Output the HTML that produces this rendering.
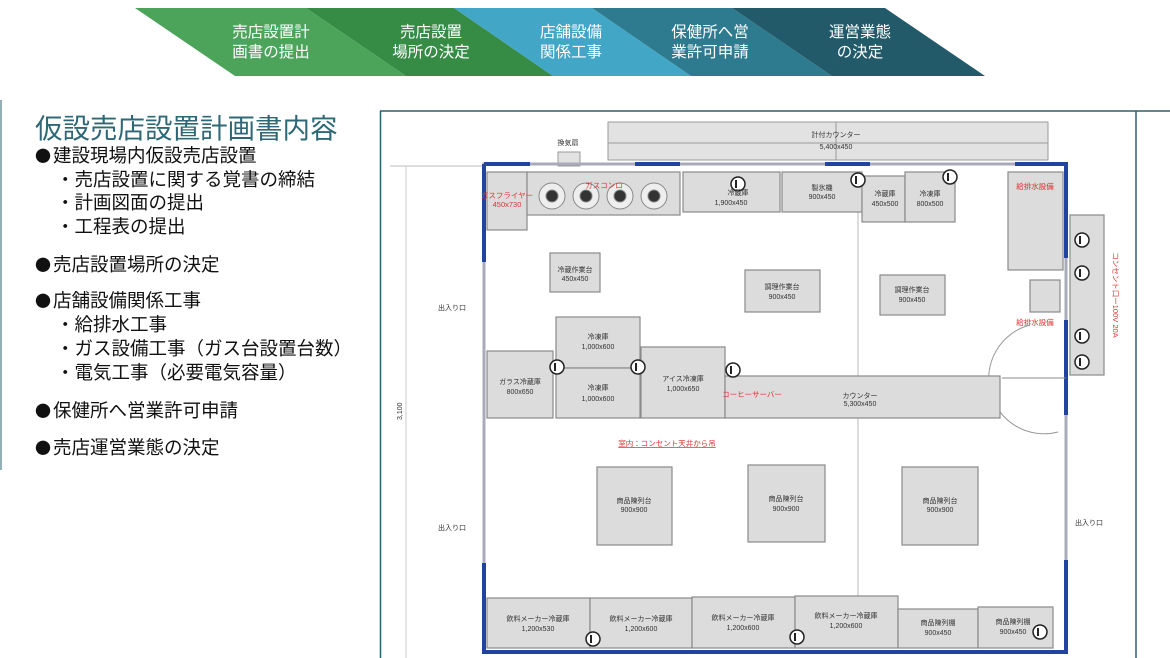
<!DOCTYPE html>
<html><head><meta charset="utf-8">
<style>
html,body{margin:0;padding:0;background:#fff;}
body{width:1170px;height:658px;position:relative;overflow:hidden;font-family:"Liberation Sans","Noto Sans CJK JP",sans-serif;}
svg{position:absolute;left:0;top:0;}
.t{position:absolute;left:35px;top:106px;font-size:27.5px;color:#2e6876;letter-spacing:0px;white-space:nowrap;}
.l{position:absolute;font-size:18.5px;color:#111;white-space:nowrap;line-height:1;}
.b{font-family:"Noto Sans CJK JP",sans-serif;font-size:16px;display:inline-block;width:18px;}
</style></head><body>
<svg width="1170" height="658" viewBox="0 0 1170 658" font-family="Liberation Sans, Noto Sans CJK JP, sans-serif">
<polygon points="135,8 306,8 406,76 235,76" fill="#4ca45b"/>
<polygon points="306,8 454,8 553,76 406,76" fill="#368b45"/>
<polygon points="454,8 592,8 691,76 553,76" fill="#42a7c7"/>
<polygon points="592,8 732,8 832,76 691,76" fill="#2e7b8f"/>
<polygon points="732,8 885,8 985,76 832,76" fill="#225a6a"/>
<g fill="#fff" font-size="15.5" text-anchor="middle">
<text x="271" y="37">売店設置計</text><text x="271" y="57">画書の提出</text>
<text x="431" y="37">売店設置</text><text x="431" y="57">場所の決定</text>
<text x="571" y="37">店舗設備</text><text x="571" y="57">関係工事</text>
<text x="710" y="37">保健所へ営</text><text x="710" y="57">業許可申請</text>
<text x="860" y="37">運営業態</text><text x="860" y="57">の決定</text>
</g>
<line x1="380" y1="111" x2="1170" y2="111" stroke="#2e5f6e" stroke-width="1.5"/>
<line x1="380.5" y1="111" x2="380.5" y2="658" stroke="#2e5f6e" stroke-width="1.5"/>
<line x1="1136" y1="111" x2="1136" y2="658" stroke="#2e5f6e" stroke-width="1.5"/>
<line x1="1" y1="100" x2="1" y2="470" stroke="#2e5f6e" stroke-width="1"/>
<g stroke="#999" fill="#e2e2e2" stroke-width="1">
<rect x="608" y="122" width="440" height="38"/>
<line x1="608" y1="143" x2="1048" y2="143"/><line x1="836" y1="122" x2="836" y2="160"/>
<rect x="558" y="152" width="22" height="14"/>
</g>
<g font-size="7" fill="#333" text-anchor="middle">
<text x="836" y="137">計付カウンター</text><text x="836" y="149">5,400x450</text>
<text x="568" y="145">換気扇</text>
</g>
<g fill="none">
<rect x="484" y="164" width="582" height="488" stroke="#aab" stroke-width="3"/>
<path d="M484,164 V262 M484,563 V652 H1066 V560 M1066,415 V320 M1066,258 V164 H1015 M870,164 H825 M680,164 H635 M530,164 H484" stroke="#2343a0" stroke-width="4"/>
<line x1="390" y1="166" x2="482" y2="166" stroke="#bbb"/>
<line x1="406" y1="166" x2="406" y2="658" stroke="#ccc"/>
<line x1="858" y1="212" x2="858" y2="598" stroke="#bbb"/>
<path d="M1030,325 A55,55 0 0 0 1058,432" stroke="#999" stroke-width="1"/>
<line x1="1002" y1="378" x2="1066" y2="378" stroke="#888"/>
</g>
<g font-size="7" fill="#333">
<text x="438" y="310">出入り口</text><text x="438" y="530">出入り口</text><text x="1075" y="525">出入り口</text>
<text x="402" y="420" transform="rotate(-90 402 420)">3,100</text>
</g>
<g stroke="#8a8a8a" fill="#dcdcdc" stroke-width="1.2">
<rect x="487" y="172" width="40" height="58"/>
<rect x="527" y="172" width="153" height="43"/>
<rect x="683" y="172" width="97" height="40"/>
<rect x="782" y="172" width="80" height="40"/>
<rect x="862" y="176" width="43" height="46"/>
<rect x="905" y="172" width="50" height="50"/>
<rect x="1008" y="172" width="55" height="98"/>
<rect x="1030" y="280" width="30" height="32"/>
<rect x="1070" y="215" width="34" height="160"/>
<rect x="550" y="253" width="50" height="39"/>
<rect x="745" y="270" width="75" height="42"/>
<rect x="880" y="275" width="65" height="40"/>
<rect x="556" y="317" width="84" height="51"/>
<rect x="556" y="368" width="84" height="50"/>
<rect x="487" y="351" width="66" height="67"/>
<rect x="641" y="347" width="84" height="71"/>
<rect x="725" y="376" width="275" height="42"/>
<rect x="597" y="467" width="75" height="78"/>
<rect x="748" y="465" width="77" height="77"/>
<rect x="902" y="467" width="76" height="78"/>
<rect x="487" y="598" width="103" height="50"/>
<rect x="590" y="598" width="102" height="50"/>
<rect x="692" y="597" width="103" height="51"/>
<rect x="795" y="596" width="103" height="52"/>
<rect x="898" y="609" width="80" height="39"/>
<rect x="978" y="607" width="75" height="41"/>
</g>
<g fill="#333" stroke="#888">
<circle cx="552" cy="196" r="13" fill="#eee"/><circle cx="552" cy="196" r="6"/>
<circle cx="586" cy="196" r="13" fill="#eee"/><circle cx="586" cy="196" r="6"/>
<circle cx="620" cy="196" r="13" fill="#eee"/><circle cx="620" cy="196" r="6"/>
<circle cx="654" cy="196" r="13" fill="#eee"/><circle cx="654" cy="196" r="6"/>
</g>
<g fill="#fff" stroke="#222" stroke-width="1.5">
<circle cx="738" cy="184" r="7"/><circle cx="858" cy="180" r="7"/><circle cx="950" cy="177" r="7"/>
<circle cx="557" cy="367" r="7"/><circle cx="638" cy="367" r="7"/><circle cx="733" cy="370" r="7"/>
<circle cx="1082" cy="240" r="7"/><circle cx="1082" cy="273" r="7"/><circle cx="1082" cy="336" r="7"/><circle cx="1082" cy="362" r="7"/>
<circle cx="593" cy="639" r="7"/><circle cx="797" cy="637" r="7"/><circle cx="1040" cy="632" r="7"/>
</g>
<g fill="#222">
<rect x="735" y="180" width="2" height="8"/><rect x="855" y="176" width="2" height="8"/><rect x="947" y="173" width="2" height="8"/>
<rect x="554" y="363" width="2" height="8"/><rect x="635" y="363" width="2" height="8"/><rect x="730" y="366" width="2" height="8"/>
<rect x="1079" y="236" width="2" height="8"/><rect x="1079" y="269" width="2" height="8"/><rect x="1079" y="332" width="2" height="8"/><rect x="1079" y="358" width="2" height="8"/>
<rect x="590" y="635" width="2" height="8"/><rect x="794" y="633" width="2" height="8"/><rect x="1037" y="628" width="2" height="8"/>
</g>
<g font-size="7" fill="#333" text-anchor="middle">
<text x="738" y="195">冷蔵庫</text><text x="731" y="205">1,900x450</text>
<text x="822" y="190">製氷機</text><text x="822" y="199">900x450</text>
<text x="885" y="196">冷蔵庫</text><text x="885" y="206">450x500</text>
<text x="930" y="196">冷凍庫</text><text x="930" y="206">800x500</text>
<text x="575" y="272">冷蔵作業台</text><text x="575" y="281">450x450</text>
<text x="782" y="289">調理作業台</text><text x="782" y="299">900x450</text>
<text x="912" y="292">調理作業台</text><text x="912" y="302">900x450</text>
<text x="598" y="339">冷凍庫</text><text x="598" y="349">1,000x600</text>
<text x="598" y="390">冷凍庫</text><text x="598" y="401">1,000x600</text>
<text x="520" y="384">ガラス冷蔵庫</text><text x="520" y="394">800x650</text>
<text x="683" y="381">アイス冷凍庫</text><text x="683" y="391">1,000x650</text>
<text x="860" y="398">カウンター</text><text x="860" y="406">5,300x450</text>
<text x="634" y="503">商品陳列台</text><text x="634" y="512">900x900</text>
<text x="786" y="501">商品陳列台</text><text x="786" y="511">900x900</text>
<text x="940" y="503">商品陳列台</text><text x="940" y="512">900x900</text>
<text x="538" y="621">飲料メーカー冷蔵庫</text><text x="538" y="631">1,200x530</text>
<text x="641" y="621">飲料メーカー冷蔵庫</text><text x="641" y="631">1,200x600</text>
<text x="743" y="620">飲料メーカー冷蔵庫</text><text x="743" y="630">1,200x600</text>
<text x="846" y="618">飲料メーカー冷蔵庫</text><text x="846" y="628">1,200x600</text>
<text x="938" y="625">商品陳列棚</text><text x="938" y="635">900x450</text>
<text x="1013" y="624">商品陳列棚</text><text x="1013" y="634">900x450</text>
</g>
<g font-size="7.5" fill="#d33" text-anchor="middle">
<text x="507" y="198">ガスフライヤー</text><text x="507" y="207">450x730</text>
<text x="604" y="188">ガスコンロ</text>
<text x="1035" y="189">給排水設備</text>
<text x="1035" y="325">給排水設備</text>
<text x="752" y="397">コーヒーサーバー</text>
<text x="667" y="446" text-decoration="underline">室内：コンセント天井から吊</text>
<text x="1113" y="295" transform="rotate(90 1113 295)">コンセント口ー100V 20A</text>
</g>
</svg>
<div class="t">仮設売店設置計画書内容</div>
<div class="l" style="left:35px;top:147px"><span class="b">●</span>建設現場内仮設売店設置</div>
<div class="l" style="left:56px;top:171px">・売店設置に関する覚書の締結</div>
<div class="l" style="left:56px;top:194px">・計画図面の提出</div>
<div class="l" style="left:56px;top:218px">・工程表の提出</div>
<div class="l" style="left:35px;top:256px"><span class="b">●</span>売店設置場所の決定</div>
<div class="l" style="left:35px;top:292px"><span class="b">●</span>店舗設備関係工事</div>
<div class="l" style="left:56px;top:316px">・給排水工事</div>
<div class="l" style="left:56px;top:340px">・ガス設備工事（ガス台設置台数）</div>
<div class="l" style="left:56px;top:364px">・電気工事（必要電気容量）</div>
<div class="l" style="left:35px;top:402px"><span class="b">●</span>保健所へ営業許可申請</div>
<div class="l" style="left:35px;top:439px"><span class="b">●</span>売店運営業態の決定</div>
</body></html>
